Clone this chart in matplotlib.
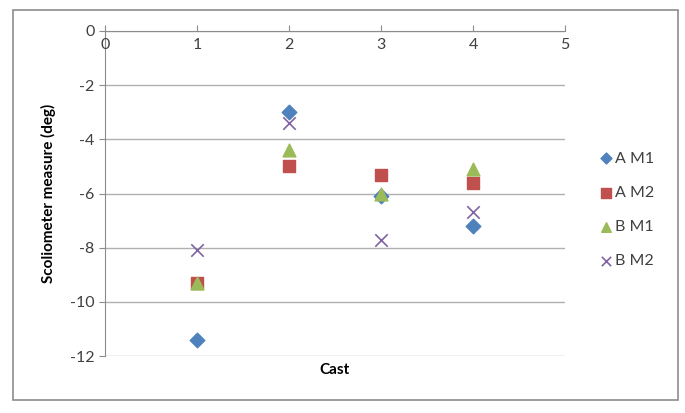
import matplotlib
matplotlib.use("Agg")
import matplotlib.pyplot as plt
from matplotlib.patches import Rectangle

casts = [1, 2, 3, 4]
a_m1 = [-11.4, -3.0, -6.1, -7.2]
a_m2 = [-9.3, -5.0, -5.3, -5.6]
b_m1 = [-9.3, -4.4, -6.0, -5.1]
b_m2 = [-8.1, -3.4, -7.7, -6.7]
series_names = ["A M1", "A M2", "B M1", "B M2"]
x_ticks = [0, 1, 2, 3, 4, 5]
y_ticks = [0, -2, -4, -6, -8, -10, -12]

plt.rcParams['font.family'] = ['Lato', 'DejaVu Sans']
plt.rcParams['axes.unicode_minus'] = False
W, H = 685, 413
fig = plt.figure(figsize=(W/100, H/100), dpi=100)
fig.patches.append(Rectangle((13/W, 1-400/H), (678-13)/W, (400-10)/H,
                             transform=fig.transFigure, fill=False,
                             edgecolor='#8c8c8c', linewidth=1.2))
ax = fig.add_axes([105/W, 1-356/H, (565-105)/W, (356-31)/H])

ax.scatter(casts, a_m1, marker='D', s=55, color='#4F81BD', label=series_names[0], zorder=3)
ax.scatter(casts, a_m2, marker='s', s=75, color='#C0504D', label=series_names[1], zorder=3)
ax.scatter(casts, b_m1, marker='^', s=85, color='#9BBB59', label=series_names[2], zorder=3)
ax.scatter(casts, b_m2, marker='x', s=80, color='#8064A2', linewidths=1.2, label=series_names[3], zorder=3)

ax.set_xlim(0, 5)
ax.set_ylim(-12, 0)
ax.set_xticks(x_ticks)
ax.set_yticks(y_ticks)
ax.yaxis.grid(True, color='#b0b0b0', linewidth=1)
ax.set_axisbelow(True)
ax.xaxis.tick_top()
ax.tick_params(axis='x', direction='out', length=4, color='#8c8c8c',
               top=True, bottom=False, labeltop=False, labelbottom=False)
for xv in x_ticks:
    ax.text(xv, -0.25, str(xv), ha='center', va='top', fontsize=11.5, color='#404040')
ax.tick_params(axis='y', direction='out', length=4, color='#8c8c8c', labelsize=11.5,
               labelcolor='#404040')
for s in ['right', 'bottom']:
    ax.spines[s].set_visible(False)
ax.spines['top'].set_color('#8c8c8c')
ax.spines['left'].set_color('#8c8c8c')

ax.set_xlabel('Cast', fontsize=11, fontweight='bold', labelpad=5)
ax.set_ylabel('Scoliometer measure (deg)', fontsize=11, fontweight='bold', labelpad=10)

leg = ax.legend(loc='center left', bbox_to_anchor=(1.04, 0.45), frameon=False,
                fontsize=11.5, handletextpad=0.1, labelspacing=1.25, handlelength=1.0,
                markerscale=0.75)
for t in leg.get_texts():
    t.set_color('#404040')

fig.savefig('out.png', dpi=100)
